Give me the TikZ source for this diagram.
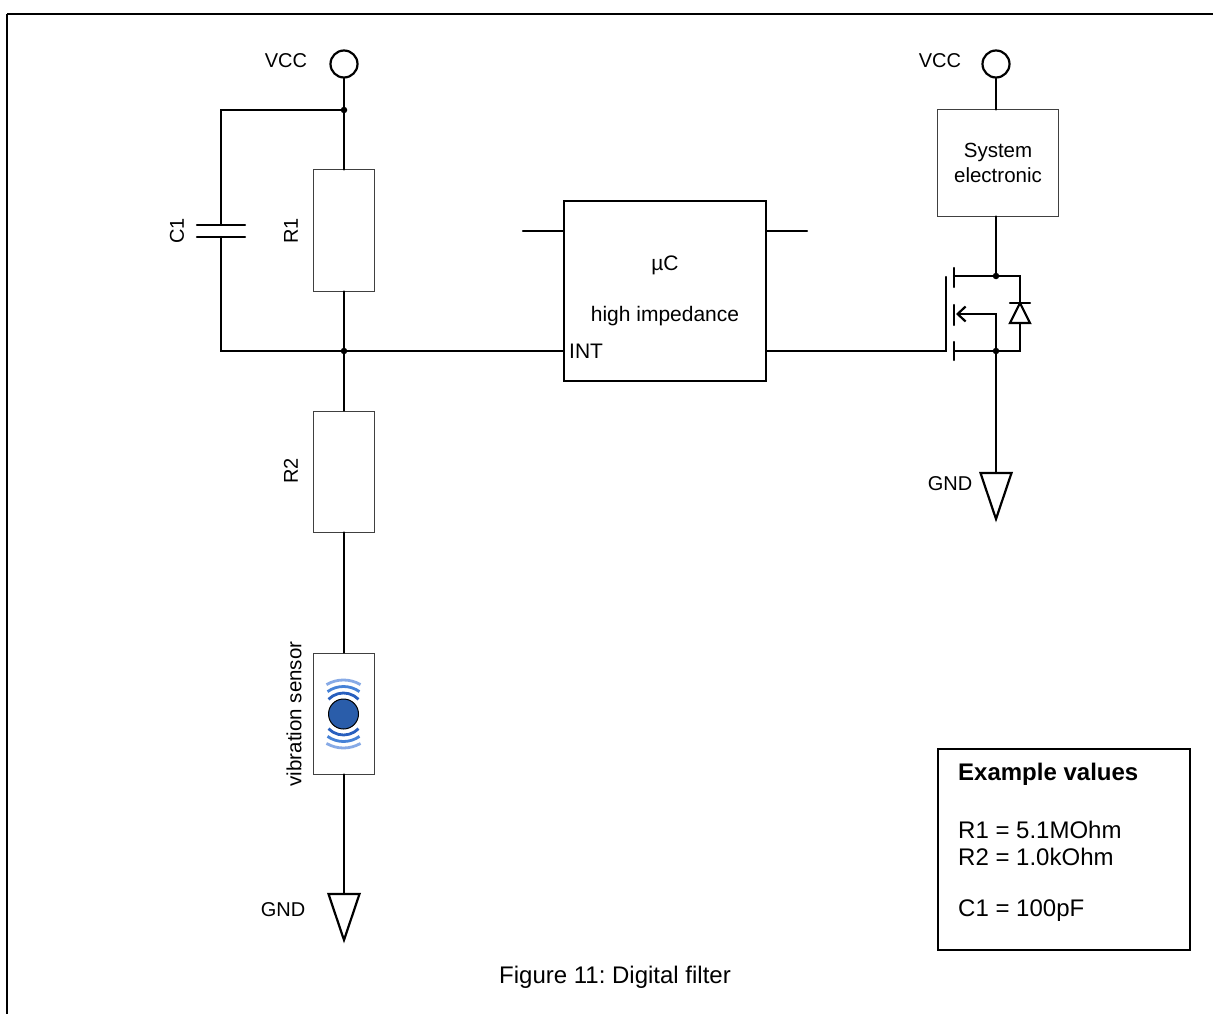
\documentclass[tikz,border=0pt]{standalone}
\usepackage{fontspec}
\setmainfont{Liberation Sans}
\frenchspacing
\usetikzlibrary{arrows.meta}
\definecolor{wavein}{RGB}{40,95,190}
\definecolor{wavemid}{RGB}{70,130,215}
\definecolor{waveout}{RGB}{135,170,230}
\definecolor{dotblue}{RGB}{42,93,170}
\tikzset{
  wire/.style={line width=2.3pt, line cap=round},
  thinbox/.style={draw=black!75, line width=1pt, fill=white, inner sep=0pt},
  thickbox/.style={draw=black, line width=2.3pt, fill=white, inner sep=0pt},
  term/.style={circle, draw, line width=2.2pt, minimum size=27pt, inner sep=0pt},
  jdot/.style={circle, fill=black, minimum size=6.5pt, inner sep=0pt},
  lbl/.style={font=\fontsize{20}{24}\selectfont, inner sep=0pt},
  biglbl/.style={font=\fontsize{24}{28}\selectfont, inner sep=0pt, anchor=west},
  gndtri/.style={line width=2.2pt, line join=miter},
}
\begin{document}
\begin{tikzpicture}[x=1pt,y=-1pt]
\useasboundingbox (0,0) rectangle (1213,1014);
% frame
\draw[line width=2.5pt] (7,14) -- (1213,14);
\draw[line width=1.2pt] (7,14) -- (7,1014);

% ---------- left branch ----------
\node[term] (vccL) at (344,64) {};
\node[lbl, anchor=center] (vccLl) at (286,61) {VCC};
\coordinate (j1) at (344,110);
\coordinate (j2) at (344,351);
\coordinate (cl1) at (221,110);
\coordinate (cl2) at (221,351);
\coordinate (c1t) at (221,225);
\coordinate (c1b) at (221,237);
\node[thinbox, minimum width=61pt, minimum height=121pt] (R1) at (344,230.5) {};
\node[thinbox, minimum width=61pt, minimum height=121pt] (R2) at (344,471.5) {};
\node[thinbox, minimum width=61pt, minimum height=121pt] (S) at (344,713.5) {};
\node[lbl, rotate=90] (c1l) at (177,231) {C1};
\node[lbl, rotate=90] (r1l) at (291,231) {R1};
\node[lbl, rotate=90] (r2l) at (291,471) {R2};
\node[lbl, rotate=90, font=\fontsize{20.5}{24}\selectfont] (sl) at (294,714) {vibration sensor};

\draw[wire] (vccL.south) -- (j1) -- (R1.north);
\draw[wire] (R1.south) -- (j2) -- (R2.north);
\draw[wire] (R2.south) -- (S.north);
\draw[wire] (j1) -- (cl1) -- (c1t);
\draw[wire] (c1b) -- (cl2) -- (j2);
\draw[wire] (c1t) ++(-24,0) -- ++(48,0);
\draw[wire] (c1b) ++(-24,0) -- ++(48,0);
\node[jdot] (d1) at (j1) {};
\node[jdot] (d2) at (j2) {};

% sensor symbol
\coordinate (sc) at (343.5,714);
\foreach \r/\c/\h in {21/wavein/15, 27.5/wavemid/16, 34/waveout/17}{
  \pgfmathsetmacro{\ang}{asin(\h/\r)}
  \draw[\c, line width=2.8pt] (sc) ++({270-\ang}:\r) arc[start angle={270-\ang}, end angle={270+\ang}, radius=\r];
  \draw[\c, line width=2.8pt] (sc) ++({90-\ang}:\r) arc[start angle={90-\ang}, end angle={90+\ang}, radius=\r];
}
\node[circle, fill=dotblue, draw=black, line width=1pt, minimum size=30pt, inner sep=0pt] (ball) at (sc) {};

% left ground
\coordinate (gndL) at (344,894);
\draw[wire] (S.south) -- (S.south |- gndL);
\draw[gndtri] (gndL) ++(-15.5,0) -- ++(31,0) -- (344,940) -- cycle;
\node[lbl] (gndLl) at (283,910) {GND};

% ---------- microcontroller ----------
\node[thickbox, minimum width=202pt, minimum height=180pt] (uC) at (665,291) {};
\node[lbl, font=\fontsize{21}{24}\selectfont] (uCt) at (665,265) {µC};
\node[lbl, font=\fontsize{21}{24}\selectfont] (uCh) at (665,316) {high impedance};
\node[lbl, font=\fontsize{21}{24}\selectfont, anchor=west] (int) at (569,351) {INT};
\coordinate (pTL) at (523,231);
\coordinate (pTR) at (807,231);
\draw[wire] (pTL) -- (pTL -| uC.west);
\draw[wire] (pTR) -- (pTR -| uC.east);
\draw[wire] (j2) -- (j2 -| uC.west);

% ---------- right branch ----------
\node[term] (vccR) at (996,64) {};
\node[lbl] (vccRl) at (940,61) {VCC};
\node[thinbox, minimum width=121pt, minimum height=106pt, align=center, font=\fontsize{20.5}{25}\selectfont] (sys) at (998,163) {System\\electronic};
\draw[wire] (vccR.south) -- (vccR.south |- sys.north);

% MOSFET
\coordinate (dr) at (996,276);
\coordinate (so) at (996,351);
\coordinate (gt) at (946,351);
\coordinate (gtop) at (946,277);
\draw[wire] (uC.east |- gt) -- (gt) -- (gtop);
\draw[wire] (954,268) -- (954,287);
\draw[wire] (954,305) -- (954,325);
\draw[wire] (954,342) -- (954,360);
\draw[wire] (sys.south -| dr) -- (dr);
\draw[wire] (954,276) -- (1020,276) -- (1020,351) -- (954,351);
\draw[wire, -{Straight Barb[length=8pt,width=15pt,line width=2.2pt]}] (so) -- (996,314) -- (956,314);
\draw[line width=2.2pt, fill=white, line join=miter] (1010,323) -- (1030,323) -- (1020,303) -- cycle;
\draw[wire] (1010,303) -- (1030,303);
\node[jdot] (dd) at (dr) {};
\node[jdot] (ds) at (so) {};

% right ground
\coordinate (gndR) at (996,473);
\draw[wire] (so) -- (gndR);
\draw[gndtri] (gndR) ++(-15.5,0) -- ++(31,0) -- (996,519) -- cycle;
\node[lbl] (gndRl) at (950,484) {GND};

% ---------- example values ----------
\node[draw, line width=2pt, minimum width=252pt, minimum height=201pt, inner sep=0pt] (ex) at (1064,849.5) {};
\node[biglbl, font=\bfseries\fontsize{24}{28}\selectfont] (ex1) at (958,774) {Example values};
\node[biglbl] (ex2) at (958,830) {R1 = 5.1MOhm};
\node[biglbl] (ex3) at (958,857) {R2 = 1.0kOhm};
\node[biglbl] (ex4) at (958,911) {C1 = 100pF};

% caption
\node[lbl, font=\fontsize{24}{28}\selectfont] (cap) at (615,977) {Figure 11: Digital filter};
\end{tikzpicture}
\end{document}
